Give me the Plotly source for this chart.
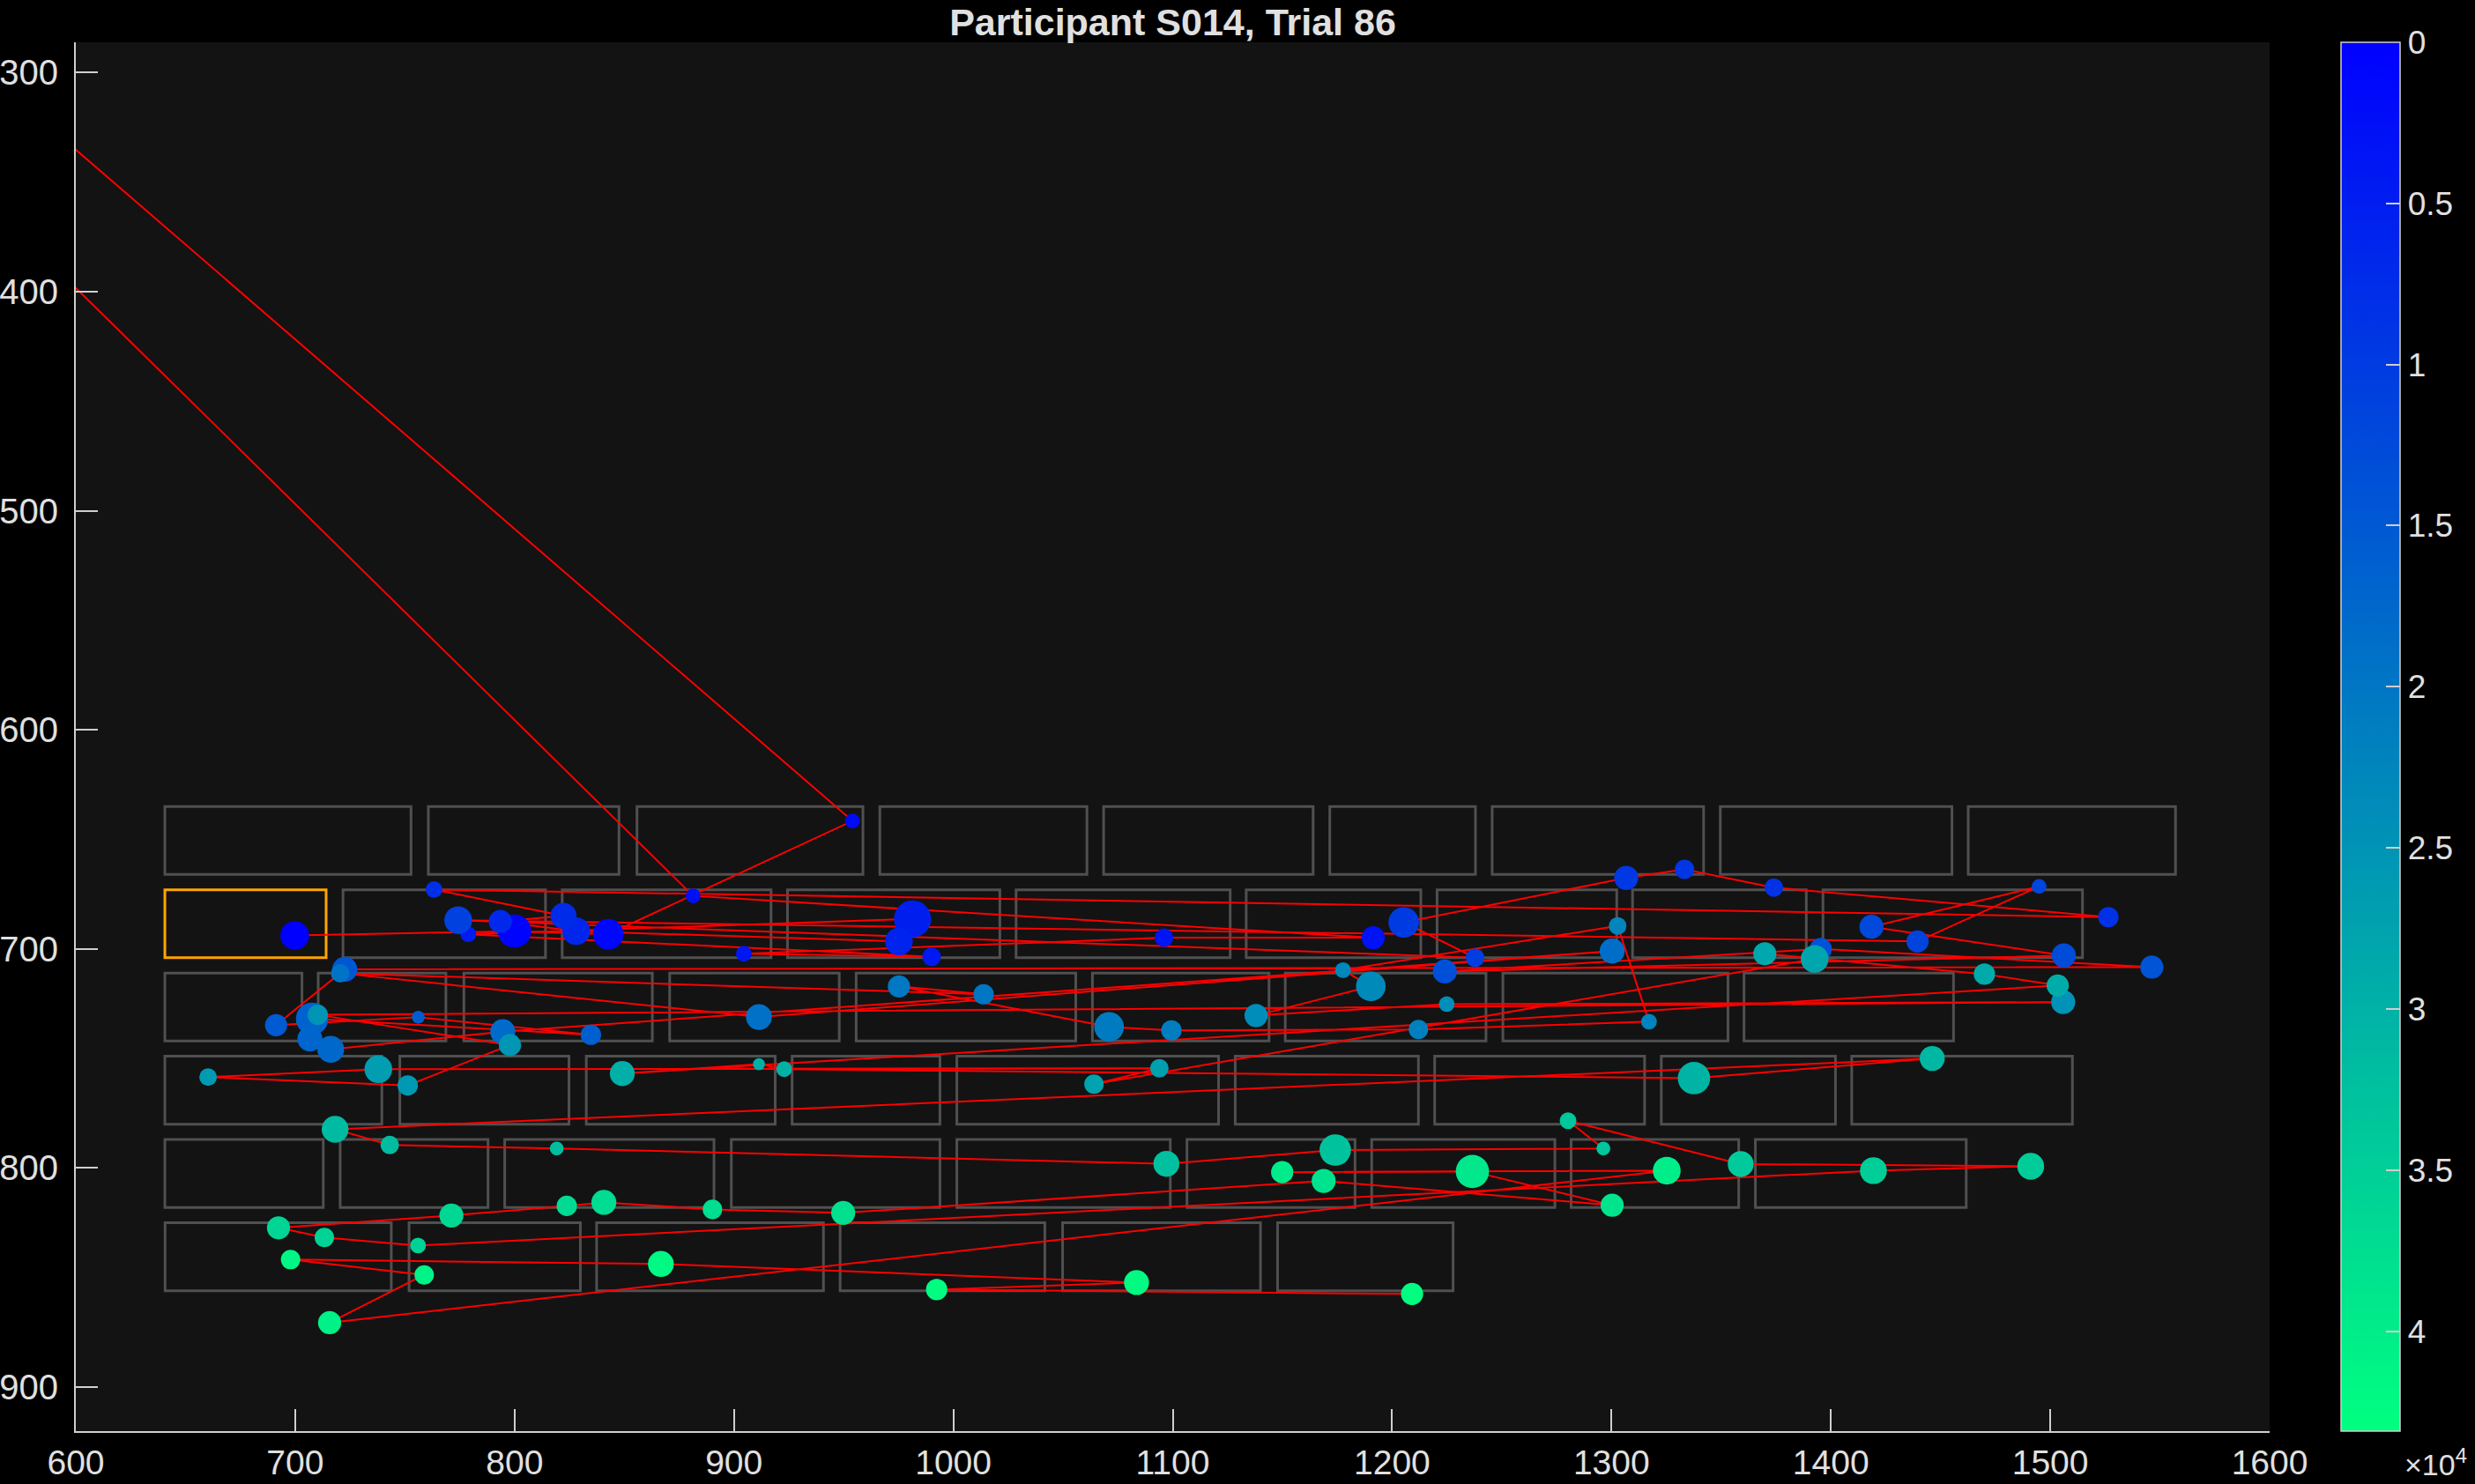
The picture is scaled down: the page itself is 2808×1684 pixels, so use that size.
import numpy as np
import plotly.graph_objects as go

title = "Participant S014, Trial 86"

# ---- word boxes (data units) ----
row_top = [635, 673, 711, 749, 787, 825]
row_bottom = [666, 704, 742, 780, 818, 856]
box_left = [
    [640.6, 760.7, 855.8, 966.5, 1068.5, 1171.6, 1245.6, 1349.6, 1462.6],
    [640.6, 721.8, 821.7, 924.4, 1028.6, 1133.5, 1220.5, 1309.6, 1396.4],
    [640.6, 710.5, 776.9, 870.7, 955.7, 1063.4, 1151.3, 1250.5, 1360.4],
    [640.6, 747.7, 832.7, 926.5, 1001.6, 1128.5, 1219.4, 1322.7, 1409.5],
    [640.6, 720.5, 795.5, 898.8, 1001.6, 1106.5, 1190.7, 1281.6, 1365.6],
    [640.7, 751.9, 837.4, 948.4, 1049.8, 1147.8],
]
box_right = [
    [752.8, 847.6, 958.8, 1060.9, 1164.0, 1238.0, 1342.0, 1455.2, 1557.1],
    [714.1, 814.1, 916.9, 1021.2, 1126.2, 1213.1, 1302.4, 1388.8, 1514.7],
    [703.1, 768.7, 862.8, 948.0, 1055.8, 1143.9, 1242.8, 1353.1, 1455.9],
    [739.5, 824.8, 918.8, 993.9, 1120.9, 1212.0, 1315.1, 1402.1, 1510.1],
    [712.8, 787.9, 890.9, 993.9, 1098.9, 1183.1, 1274.2, 1358.0, 1461.7],
    [743.8, 830.0, 940.8, 1041.7, 1140.0, 1227.8],
]
target_box = (1, 0)  # (row, index) of highlighted word

# ---- fixations, in temporal order ----
fix_x = [
    699.8, 800.0, 842.7, 954.0, 76.4, 881.4, 1191.4, 1096.0, 904.5, 990.1,
    778.9, 981.4, 975.2, 828.1, 793.5, 822.3, 763.3, 1526.5, 1374.0, 1333.3,
    1306.7, 1205.3, 1237.8, 774.3, 1439.5, 1494.9, 1418.5, 1506.2, 1224.0, 1395.4,
    1546.3,
    722.6, 691.3, 756.1, 834.8, 707.7, 706.7, 716.2, 794.6, 1300.3, 911.4,
    720.5, 1013.8, 975.2, 1071.0, 1099.4, 1212.0, 1317.1, 1302.8, 1177.6, 1190.3,
    1138.0, 1224.9, 1505.9, 710.3, 797.9,
    751.3, 660.3, 737.9, 1093.9, 1064.1, 1392.6, 1369.9, 1470.0, 1503.4, 849.1,
    911.4, 922.9, 1337.6, 1446.2,
    718.2, 743.1, 819.2, 1097.1, 1174.1, 1296.3, 1280.2, 1358.9, 1491.1, 1419.4,
    756.0, 713.3, 692.4, 771.2, 823.8, 840.7, 890.2, 949.8, 1168.8, 1300.3,
    1236.6, 1149.9, 1325.2, 715.7, 758.8, 697.9, 866.7, 1083.5, 992.4, 1209.1,
]
fix_y = [
    693.9, 691.9, 693.3, 641.6, -118.0, 675.8, 694.9, 694.9, 702.2, 703.6,
    693.3, 686.3, 696.6, 691.9, 687.5, 684.9, 672.9, 685.5, 672.0, 663.7,
    667.6, 687.9, 704.0, 686.9, 696.6, 671.5, 689.9, 703.0, 710.3, 700.0,
    708.3,
    709.3, 734.8, 731.2, 739.2, 731.9, 741.1, 745.8, 737.8, 701.0, 731.1,
    711.1, 720.7, 717.1, 735.6, 737.2, 736.8, 733.2, 689.5, 709.7, 717.1,
    730.4, 725.2, 724.3, 730.1, 743.9,
    762.3, 758.5, 754.9, 754.5, 761.7, 704.6, 702.2, 711.5, 716.7, 756.9,
    752.6, 754.9, 759.0, 750.0,
    782.3, 789.5, 791.1, 798.1, 791.8, 791.1, 778.4, 798.2, 799.2, 801.2,
    835.4, 831.7, 827.3, 821.7, 817.3, 815.7, 818.9, 820.5, 805.9, 817.0,
    801.6, 801.9, 801.2, 870.6, 848.8, 841.8, 843.8, 852.3, 855.5, 857.5,
]
fix_time = [  # ms from trial start
    0, 600, 1200, 1700, 2100, 2500, 3000, 3500, 3900, 4300,
    4800, 5300, 5900, 6400, 6900, 7400, 7900, 8300, 8700, 9100,
    9500, 10000, 10500, 11000, 11500, 11900, 12300, 12800, 13300, 13800,
    14200,
    14700, 15200, 15600, 16000, 16500, 17100, 17600, 18100, 18600, 19100,
    19500, 19900, 20300, 20800, 21300, 21700, 22100, 22500, 22900, 23300,
    23800, 24200, 24600, 25000, 25400,
    25800, 26200, 26700, 27100, 27500, 27900, 28300, 28700, 29100, 29500,
    29800, 30100, 30500, 31000,
    31400, 31800, 32100, 32500, 33000, 33400, 33700, 34100, 34500, 34900,
    35300, 35600, 36000, 36400, 36800, 37200, 37500, 37900, 38300, 38700,
    39200, 39700, 40200, 40700, 41100, 41500, 41900, 42300, 42700, 43100,
]
fix_dur = [  # ms
    310, 360, 330, 160, 160, 160, 250, 200, 170, 200,
    170, 400, 300, 300, 250, 280, 180, 220, 200, 210,
    260, 330, 200, 300, 240, 160, 260, 260, 260, 240,
    250,
    270, 240, 140, 220, 350, 270, 290, 270, 270, 280,
    200, 220, 240, 320, 220, 210, 170, 190, 170, 320,
    250, 170, 260, 220, 240,
    220, 190, 300, 200, 210, 300, 250, 230, 240, 270,
    130, 170, 350, 270,
    290, 200, 150, 280, 340, 150, 180, 280, 290, 290,
    170, 210, 250, 260, 220, 270, 210, 260, 260, 250,
    360, 240, 300, 250, 210, 210, 280, 270, 230, 240,
]

cb_tickvals = [0, 5000, 10000, 15000, 20000, 25000, 30000, 35000, 40000]
cb_ticktext = ["0", "0.5", "1", "1.5", "2", "2.5", "3", "3.5", "4"]

# ---- styling ----
W, H = 2808, 1684
M_L, M_R, M_T, M_B = 86, 233, 48, 60
PW, PH = W - M_L - M_R, H - M_T - M_B
FONT = "Liberation Sans, Arial, Helvetica, sans-serif"
TXT = "#e0e0e0"
AX = "#cfcfcf"
PX_PER_MS = 0.105  # marker diameter per ms of fixation duration

t_arr = np.array(fix_time, dtype=float)
t_max = t_arr.max()
# winter colormap; colour axis is negated so that 0 sits at the top of the bar
winter_rev = [[0.0, "rgb(0,255,128)"], [1.0, "rgb(0,0,255)"]]

fig = go.Figure()

shapes = []
for r, (top, bot) in enumerate(zip(row_top, row_bottom)):
    for i, (x0, x1) in enumerate(zip(box_left[r], box_right[r])):
        hl = (r, i) == target_box
        shapes.append(dict(
            type="rect", xref="x", yref="y", x0=x0, x1=x1, y0=top, y1=bot,
            line=dict(color="#FFA500" if hl else "#505050", width=3),
            fillcolor="rgba(0,0,0,0)", layer="below",
        ))

fig.add_trace(go.Scatter(
    x=fix_x, y=fix_y, mode="lines",
    line=dict(color="#ff0000", width=2),
    hoverinfo="skip", showlegend=False,
))

fig.add_trace(go.Scatter(
    x=fix_x, y=fix_y, mode="markers",
    marker=dict(
        size=np.array(fix_dur) * PX_PER_MS,
        color=-t_arr, cmin=-t_max, cmax=0, colorscale=winter_rev,
        line=dict(width=0), opacity=1,
        colorbar=dict(
            thickness=67, thicknessmode="pixels",
            len=1.0, lenmode="fraction", y=0.5, yanchor="middle",
            x=1 + 81 / PW, xanchor="left", xpad=0, ypad=0,
            outlinecolor=AX, outlinewidth=1.5,
            tickmode="array",
            tickvals=[-v for v in cb_tickvals], ticktext=cb_ticktext,
            tickprefix="\u2009\u00a0",
            ticks="inside", ticklen=16, tickwidth=1.5, tickcolor=AX,
            tickfont=dict(family=FONT, size=37, color=TXT),
        ),
    ),
    hoverinfo="skip", showlegend=False,
))

fig.update_layout(
    width=W, height=H,
    margin=dict(l=M_L, r=M_R, t=M_T, b=M_B, pad=0, autoexpand=False),
    paper_bgcolor="#000000", plot_bgcolor="#131313",
    shapes=shapes,
    title=dict(text=title, x=(M_L + PW / 2) / W, xanchor="center",
               y=1 - 25 / H, yanchor="middle", yref="container",
               font=dict(family=FONT, size=43, color=TXT, weight="bold")),
    annotations=[dict(
        text="×10<sup>4</sup>", xref="paper", yref="paper",
        x=1 + (2726 - (W - M_R)) / PW, xanchor="left",
        y=-(1659 - (H - M_B)) / PH, yanchor="middle",
        showarrow=False, font=dict(family=FONT, size=34, color=TXT),
    )],
)
fig.update_xaxes(
    range=[600, 1600], tickmode="array", tickvals=list(range(600, 1601, 100)),
    ticks="inside", ticklen=25, tickwidth=2, tickcolor=AX,
    showline=True, linecolor=AX, linewidth=2, mirror=False, automargin=False,
    showgrid=False, zeroline=False, ticklabelstandoff=0,
    tickfont=dict(family=FONT, size=39, color=TXT),
)
fig.update_yaxes(
    range=[920.1, 286.2], tickmode="array", tickvals=list(range(300, 901, 100)),
    ticks="inside", ticklen=25, tickwidth=2, tickcolor=AX,
    showline=True, linecolor=AX, linewidth=2, mirror=False, automargin=False,
    showgrid=False, zeroline=False, ticklabelstandoff=10,
    tickfont=dict(family=FONT, size=40, color=TXT),
)

fig.write_html("out.html")
